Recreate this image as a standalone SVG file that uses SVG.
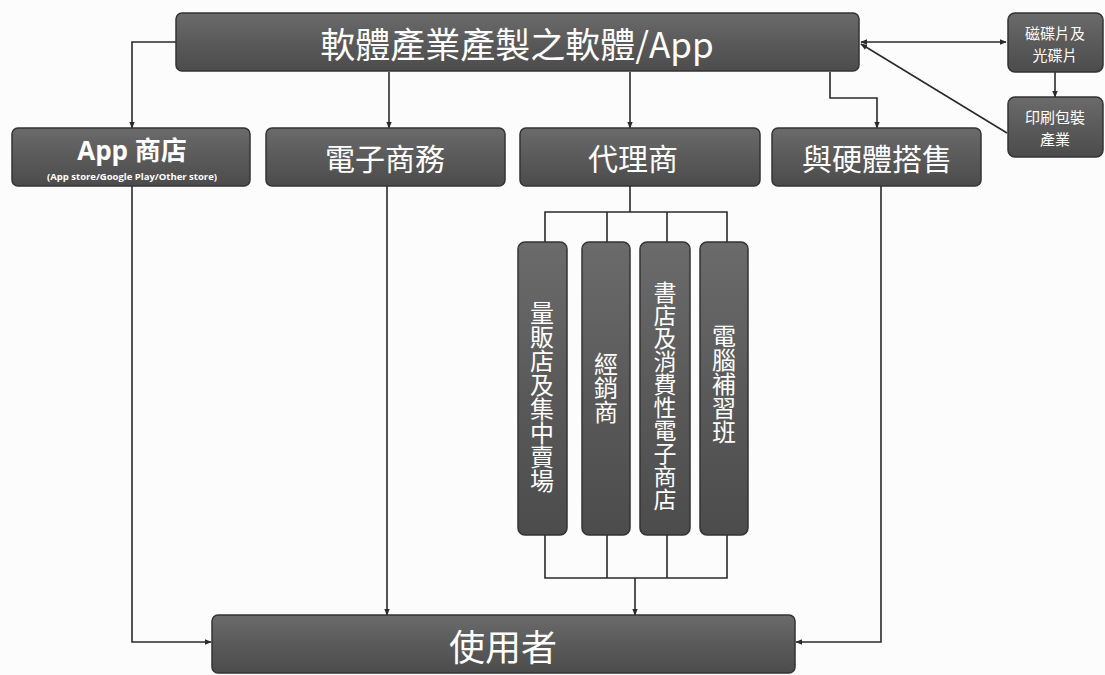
<svg xmlns="http://www.w3.org/2000/svg" width="1105" height="675" viewBox="0 0 1105 675">
<defs>
<linearGradient id="g" x1="0" y1="0" x2="0" y2="1">
<stop offset="0" stop-color="#6b6b6b"/>
<stop offset="0.5" stop-color="#5a5a5a"/>
<stop offset="1" stop-color="#4c4c4c"/>
</linearGradient>
<marker id="ah" viewBox="0 0 10 10" refX="9" refY="5" markerWidth="7" markerHeight="7" orient="auto-start-reverse" markerUnits="userSpaceOnUse">
<path d="M0,1 L10,5 L0,9 z" fill="#2a2a2a"/>
</marker>
<style>
.box{fill:url(#g);stroke:#333;stroke-width:1.5}
.t{fill:#fff;font-family:"Noto Sans CJK TC","Noto Sans CJK SC",sans-serif;text-anchor:middle;dominant-baseline:central}
.s{font-size:15px}
.v{fill:#fff;font-family:"Noto Sans CJK TC","Noto Sans CJK SC",sans-serif;font-size:24px;writing-mode:vertical-rl;text-anchor:middle;dominant-baseline:central}
.c{fill:none;stroke:#2a2a2a;stroke-width:1.6}
.a{marker-end:url(#ah)}
</style>
</defs>
<rect width="1105" height="675" fill="#fcfcfc"/>
<g id="connectors">
<path class="c a" d="M176,42 H132 V128"/>
<path class="c a" d="M389,72 V128"/>
<path class="c a" d="M630,72 V128"/>
<path class="c a" d="M830,72 V98 H877 V128"/>
<path class="c" d="M861,42 H1006" marker-start="url(#ah)" marker-end="url(#ah)"/>
<path class="c a" d="M1007,133 L861,44"/>
<path class="c a" d="M1055,72 V97"/>
<path class="c a" d="M132,186 V642 H211"/>
<path class="c a" d="M387,186 V615"/>
<path class="c a" d="M881,186 V642 H796"/>
<path class="c" d="M630,186 V212 M545,242 V212 H727 V242 M607,212 V242 M667,212 V242"/>
<path class="c" d="M545,535 V578 H727 V535 M607,535 V578 M667,535 V578"/>
<path class="c a" d="M635,578 V615"/>
</g>
<g id="n-top"><rect class="box" x="176" y="13" width="683" height="58" rx="6"/><text class="t" x="517" y="42" font-size="35">軟體產業產製之軟體/App</text></g>
<g id="n-disc"><rect class="box" x="1008" y="13" width="95" height="59" rx="7"/><text class="t s" x="1055" y="32">磁碟片及</text><text class="t s" x="1055" y="54">光碟片</text></g>
<g id="n-print"><rect class="box" x="1008" y="97" width="95" height="60" rx="7"/><text class="t s" x="1055" y="116">印刷包裝</text><text class="t s" x="1055" y="138">產業</text></g>
<g id="n-appstore"><rect class="box" x="12" y="128" width="238" height="58" rx="6"/><text class="t" x="132" y="150" font-size="26" font-weight="bold" style="font-family:'Open Sans','Noto Sans CJK TC',sans-serif">App 商店</text><text class="t" x="132" y="176" font-size="9.5" font-weight="bold" style="font-family:'Open Sans',sans-serif">(App store/Google Play/Other store)</text></g>
<g id="n-ecommerce"><rect class="box" x="266" y="128" width="239" height="58" rx="6"/><text class="t" x="385" y="157" font-size="30">電子商務</text></g>
<g id="n-agent"><rect class="box" x="520" y="128" width="240" height="58" rx="6"/><text class="t" x="633" y="157" font-size="30">代理商</text></g>
<g id="n-bundle"><rect class="box" x="772" y="128" width="209" height="58" rx="6"/><text class="t" x="877" y="157" font-size="30">與硬體搭售</text></g>
<g id="n-mass"><rect class="box" x="518" y="242" width="49" height="293" rx="7"/><text class="v" x="542" y="397">量販店及集中賣場</text></g>
<g id="n-dealer"><rect class="box" x="582" y="242" width="48" height="293" rx="7"/><text class="v" x="606" y="388">經銷商</text></g>
<g id="n-bookstore"><rect class="box" x="640" y="242" width="50" height="293" rx="7"/><text class="v" x="665" y="396" style="font-size:23px">書店及消費性電子商店</text></g>
<g id="n-school"><rect class="box" x="700" y="242" width="48" height="293" rx="7"/><text class="v" x="724" y="384">電腦補習班</text></g>
<g id="n-user"><rect class="box" x="212" y="615" width="583" height="58" rx="6"/><text class="t" x="503" y="645" font-size="36">使用者</text></g>
</svg>
